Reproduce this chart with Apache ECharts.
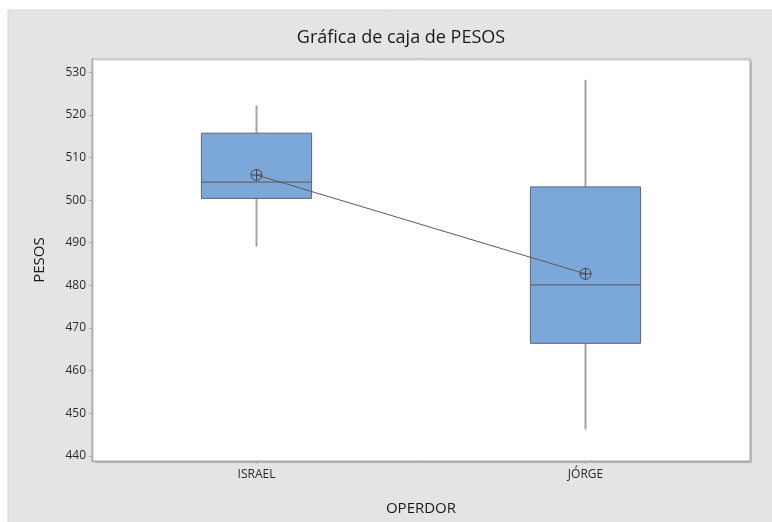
<!DOCTYPE html>
<html>
<head>
<meta charset="utf-8">
<script src="https://cdn.jsdelivr.net/npm/echarts@6/dist/echarts.min.js"></script>
<style>
  html, body { margin: 0; padding: 0; background: #ffffff; }
  #chart { width: 772px; height: 522px; }
</style>
</head>
<body>
<div id="chart"></div>
<script>
// Operators and their weight summaries (PESOS)
const categories = ['ISRAEL', 'JÓRGE'];
const whiskerLow = [489.1, 446.2];
const q1 = [500.4, 466.4];
const median = [504.2, 480.1];
const q3 = [515.7, 503.1];
const whiskerHigh = [522.2, 528.2];
const means = [505.9, 482.7];
const yTicks = [440, 450, 460, 470, 480, 490, 500, 510, 520, 530];

const FONT = '"Open Sans", "Noto Sans", sans-serif';

const boxData = categories.map((c, i) => [i, whiskerLow[i], q1[i], median[i], q3[i], whiskerHigh[i]]);

const chart = echarts.init(document.getElementById('chart'));

chart.setOption({
  backgroundColor: '#ffffff',
  animation: false,
  graphic: [{
    type: 'rect',
    z: -10,
    shape: { x: 8, y: 10, width: 800, height: 540 },
    style: { fill: '#e4e4e4', stroke: '#d6d6d6', lineWidth: 1 }
  }],
  title: {
    text: 'Gráfica de caja de PESOS',
    left: 396,
    textAlign: 'center',
    top: 24,
    textStyle: { fontFamily: FONT, fontSize: 18, fontWeight: 500, color: '#1a1a1a' }
  },
  grid: {
    left: 92, right: 22, top: 59, bottom: 61,
    show: true,
    backgroundColor: '#ffffff',
    borderColor: '#a8a8a8',
    borderWidth: 1,
    shadowColor: 'rgba(0,0,0,0.12)',
    shadowOffsetX: 1.5,
    shadowOffsetY: 1.5,
    shadowBlur: 1
  },
  xAxis: {
    type: 'category',
    data: categories,
    boundaryGap: true,
    name: 'OPERDOR',
    nameLocation: 'middle',
    nameGap: 40,
    nameTextStyle: { fontFamily: FONT, fontSize: 15, fontWeight: 500, color: '#1a1a1a' },
    axisLine: { show: true, lineStyle: { color: '#a8a8a8' } },
    axisTick: { show: true, alignWithLabel: true, length: 3, lineStyle: { color: '#a8a8a8' } },
    axisLabel: { fontFamily: FONT, fontSize: 12, fontWeight: 500, color: '#2a2a2a', margin: 8 },
    splitLine: { show: false }
  },
  yAxis: {
    type: 'value',
    min: 438.8,
    max: 533.1,
    name: 'PESOS',
    nameLocation: 'middle',
    nameGap: 45,
    nameTextStyle: { fontFamily: FONT, fontSize: 15, fontWeight: 500, color: '#1a1a1a' },
    axisLine: { show: true, lineStyle: { color: '#a8a8a8' } },
    axisTick: { show: true, length: 3, customValues: yTicks, lineStyle: { color: '#a8a8a8' } },
    axisLabel: { fontFamily: FONT, fontSize: 12, fontWeight: 500, color: '#2a2a2a', margin: 6, customValues: yTicks },
    splitLine: { show: false }
  },
  series: [
    {
      type: 'custom',
      data: boxData,
      encode: { x: 0, y: [1, 2, 3, 4, 5] },
      renderItem: function (params, api) {
        const x = api.value(0);
        const pLow = api.coord([x, api.value(1)]);
        const pQ1 = api.coord([x, api.value(2)]);
        const pMed = api.coord([x, api.value(3)]);
        const pQ3 = api.coord([x, api.value(4)]);
        const pHigh = api.coord([x, api.value(5)]);
        const half = api.size([1, 0])[0] * 0.335 / 2;
        const cx = pMed[0];
        return {
          type: 'group',
          children: [
            { type: 'line', shape: { x1: cx, y1: pHigh[1], x2: cx, y2: pQ3[1] }, style: { stroke: '#a3a3a3', lineWidth: 2 } },
            { type: 'line', shape: { x1: cx, y1: pQ1[1], x2: cx, y2: pLow[1] }, style: { stroke: '#a3a3a3', lineWidth: 2 } },
            { type: 'rect', shape: { x: cx - half, y: pQ3[1], width: half * 2, height: pQ1[1] - pQ3[1] }, style: { fill: '#7ba7d9', stroke: '#5e6570', lineWidth: 1 } },
            { type: 'line', shape: { x1: cx - half, y1: pMed[1], x2: cx + half, y2: pMed[1] }, style: { stroke: '#5e6570', lineWidth: 1.2 } }
          ]
        };
      },
      z: 2
    },
    {
      type: 'line',
      data: means,
      symbol: 'path://M0,-10 A10,10 0 1,1 0,10 A10,10 0 1,1 0,-10 Z M-10,0 L10,0 M0,-10 L0,10',
      symbolSize: 11,
      showSymbol: true,
      lineStyle: { color: '#5a5a5a', width: 1 },
      itemStyle: { color: 'rgba(0,0,0,0)', borderColor: '#444', borderWidth: 1 },
      z: 5
    }
  ]
});
</script>
</body>
</html>
